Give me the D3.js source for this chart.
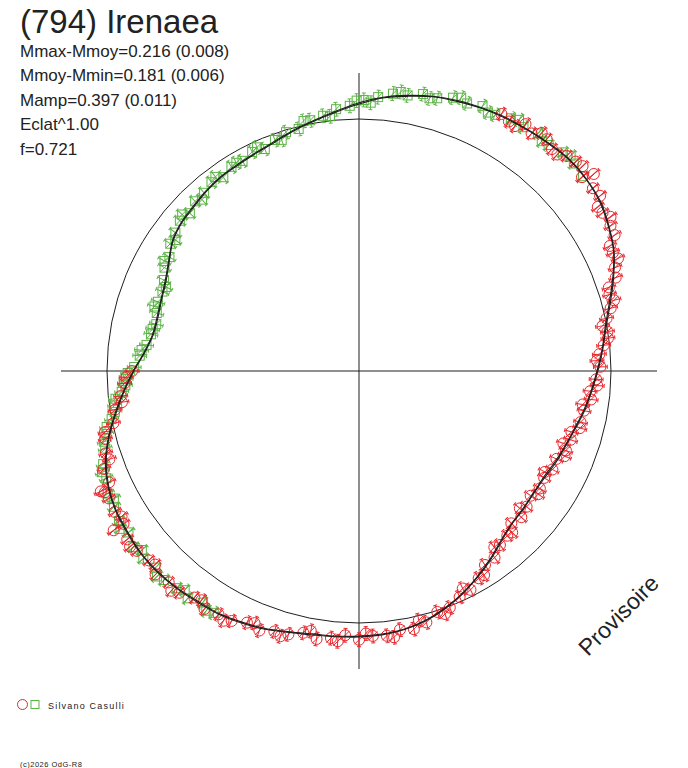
<!DOCTYPE html>
<html><head><meta charset="utf-8">
<script src="https://cdn.jsdelivr.net/npm/d3@7"></script>
<style>
body{margin:0;background:#fff}
svg{display:block}
text{font-family:"Liberation Sans",Arial,sans-serif;fill:#222}
</style>
</head><body><div id="chart"></div>
<script>
// ---------- data ----------
const title = "(794) Irenaea";
const statLines = ["Mmax-Mmoy=0.216 (0.008)", "Mmoy-Mmin=0.181 (0.006)", "Mamp=0.397 (0.011)", "Eclat^1.00", "f=0.721"];
const observer = "Silvano Casulli";
const credit = "(c)2026 OdG-R8";
const watermark = "Provisoire";
// phase in degrees (clockwise from top), relative magnitude (positive = brighter, outward)
const fitA = [[0,.065],[5,.096],[10,.117],[15,.139],[20,.152],[25,.165],[30,.174],[35,.183],[40,.191],[45,.200],[50,.196],[55,.183],[60,.157],[65,.126],[70,.078],[75,.030],[80,-.009],[85,-.035],[90,-.061],[95,-.083],[100,-.104],[105,-.126],[110,-.143],[115,-.157],[120,-.170],[125,-.170],[130,-.165],[135,-.157],[140,-.135],[145,-.100],[150,-.065],[155,-.030],[160,.000],[165,.026],[170,.043],[175,.052],[180,.057],[185,.061],[190,.065],[195,.078],[200,.096],[205,.109],[210,.122],[215,.126],[220,.135],[225,.139],[230,.139],[235,.130],[240,.122],[245,.104],[250,.074],[255,.030],[260,-.022],[265,-.070],[270,-.117],[275,-.161],[280,-.187],[285,-.191],[290,-.183],[295,-.170],[300,-.143],[305,-.109],[310,-.091],[315,-.083],[320,-.070],[325,-.061],[330,-.057],[335,-.048],[340,-.035],[345,-.013],[350,.009],[355,.035]];
const fitB = [[0,.071],[5,.099],[10,.121],[15,.141],[20,.156],[25,.167],[30,.178],[35,.185],[40,.194],[45,.202],[50,.198],[55,.187],[60,.160],[65,.128],[70,.082],[75,.035],[80,-.005],[85,-.032],[90,-.057],[95,-.080],[100,-.100],[105,-.123],[110,-.140],[115,-.152],[120,-.165],[125,-.168],[130,-.162],[135,-.155],[140,-.131],[145,-.096],[150,-.062],[155,-.028],[160,.003],[165,.029],[170,.046],[175,.056],[180,.061],[185,.064],[190,.070],[195,.081],[200,.099],[205,.113],[210,.125],[215,.131],[220,.138],[225,.143],[230,.142],[235,.134],[240,.125],[245,.107],[250,.078],[255,.033],[260,-.018],[265,-.067],[270,-.114],[275,-.158],[280,-.184],[285,-.187],[290,-.180],[295,-.166],[300,-.140],[305,-.106],[310,-.088],[315,-.079],[320,-.067],[325,-.058],[330,-.053],[335,-.045],[340,-.031],[345,-.010],[350,.012],[355,.039]];
const redPts = [[29,.182],[31,.170],[34,.199],[36,.181],[39,.201],[41,.183],[44,.204],[46,.215],[49,.189],[50,.237],[52,.195],[54,.200],[57,.167],[60,.167],[62,.163],[65,.122],[68,.105],[70,.092],[73,.043],[76,.032],[78,.005],[81,-.002],[84,-.026],[86,-.048],[89,-.046],[92,-.064],[95,-.087],[97,-.079],[100,-.102],[103,-.107],[106,-.135],[108,-.128],[111,-.132],[114,-.156],[117,-.152],[120,-.166],[123,-.158],[126,-.173],[129,-.158],[132,-.146],[135,-.159],[138,-.132],[141,-.122],[144,-.093],[147,-.090],[150,-.055],[153,-.028],[156,-.020],[159,.006],[162,.006],[165,.036],[168,.052],[171,.043],[174,.062],[177,.058],[180,.073],[183,.055],[186,.072],[189,.084],[192,.068],[195,.090],[198,.095],[201,.113],[204,.102],[207,.124],[210,.126],[213,.138],[216,.122],[219,.145],[222,.141],[225,.155],[228,.135],[231,.147],[234,.150],[237,.125],[240,.130],[243,.125],[246,.094],[249,.092],[252,.062],[255,.046],[258,-.004],[261,-.022],[264,-.054],[267,-.075],[270,-.109],
  [32.5,.167],[37.5,.209],[42.5,.181],[47.5,.223],[55.5,.164],[58.5,.187],[63.5,.123],[66.5,.132],[71.5,.050],[74.5,.055],[79.5,-.019],[82.5,-.004],[87.5,-.060],[93.5,-.058],[98.5,-.112],[104.5,-.104],[109.5,-.153],[112.5,-.128],[118.5,-.176],[124.5,-.150],[130.5,-.176],[136.5,-.128],[142.5,-.129],[148.5,-.055],[154.5,-.048],[160.5,.025],[166.5,.019],[172.5,.072],[178.5,.046],[184.5,.083],[190.5,.054],[196.5,.107],[202.5,.091],[208.5,.140],[214.5,.114],[220.5,.161],[226.5,.127],[232.5,.159],[238.5,.115],[244.5,.128],[250.5,.056],[256.5,.040],[262.5,-.056],[268.5,-.083],[245,.143],[237,.176]];
const greenPts = [[211,.131],[214,.119],[217,.142],[220,.137],[223,.147],[226,.135],[229,.147],[232,.149],[235,.128],[238,.135],[241,.122],[244,.120],[247,.098],[250,.088],[253,.058],[256,.036],[259,.000],[262,-.023],[265,-.060],[268,-.082],[271,-.118],[274,-.140],[277,-.165],[280,-.177],[283,-.191],[286,-.181],[289,-.171],[292,-.174],[295,-.160],[298,-.138],[301,-.134],[304,-.106],[307,-.096],[310,-.079],[313,-.090],[316,-.070],[319,-.069],[322,-.054],[325,-.067],[328,-.049],[331,-.051],[334,-.036],[337,-.047],[340,-.027],[343,-.010],[346,-.011],[349,.015],[352,.025],[355,.047],[358,.058],[1,.083],[4,.098],[7,.119],[10,.121],[13,.140],[16,.138],[19,.161],[22,.159],[25,.175],[28,.166],[31,.186],[34,.183],[37,.198],[40,.187],[43,.204],[46,.203],[49,.195],
  [212.5,.140],[218.5,.122],[224.5,.157],[230.5,.128],[236.5,.148],[242.5,.106],[248.5,.105],[254.5,.054],[257.5,.028],[260.5,-.019],[263.5,-.030],[266.5,-.078],[269.5,-.090],[275.5,-.146],[281.5,-.180],[287.5,-.163],[293.5,-.180],[299.5,-.124],[305.5,-.115],[311.5,-.069],[317.5,-.085],[323.5,-.046],[329.5,-.045],[335.5,-.027],[341.5,-.036],[347.5,.018],[353.5,.019],[359.5,.080],[2.5,.072],[8.5,.131],[14.5,.129],[20.5,.173],[26.5,.160],[32.5,.199],[38.5,.181],[44.5,.217]];
const errMag = 0.03;
const axisMag = 0.2;

// ---------- layout ----------
const W = 688, H = 768, cx = 359, cy = 371;
const RED = "#e8262c", GREEN = "#5cb346", INK = "#1e1e1e";
const rScale = d3.scaleLinear().domain([0, 0.2]).range([252, 298]);
const aScale = d3.scaleLinear().domain([0, 360]).range([0, 2 * Math.PI]);

const svg = d3.select("#chart").append("svg").attr("width", W).attr("height", H);
const g = svg.append("g").attr("transform", `translate(${cx},${cy})`);

// axes
const ext = rScale(axisMag);
g.append("line").attr("x1", -ext).attr("x2", ext).attr("y1", 0).attr("y2", 0).attr("stroke", INK).attr("stroke-width", 1);
g.append("line").attr("y1", -ext).attr("y2", ext).attr("x1", 0).attr("x2", 0).attr("stroke", INK).attr("stroke-width", 1);
// mean circle
g.append("circle").attr("r", rScale(0)).attr("fill", "none").attr("stroke", INK).attr("stroke-width", 1);

function pos(d) {
  const a = aScale(d[0]), r = rScale(d[1]);
  return [r * Math.sin(a), -r * Math.cos(a)];
}
const errPx = rScale(errMag) - rScale(0);

function drawPts(data, color, kind) {
  const pg = g.append("g").attr("stroke", color).attr("fill", "none").attr("stroke-width", 1);
  data.forEach(d => {
    const [x, y] = pos(d);
    const s = pg.append("g").attr("transform", `translate(${x},${y})`);
    const rot = s.append("g").attr("transform", `rotate(${d[0]})`);
    rot.append("line").attr("x1", 0).attr("x2", 0).attr("y1", -errPx).attr("y2", errPx);
    rot.append("line").attr("x1", -2).attr("x2", 2).attr("y1", -errPx).attr("y2", -errPx);
    rot.append("line").attr("x1", -2).attr("x2", 2).attr("y1", errPx).attr("y2", errPx);
    if (kind === "circle") {
      s.append("circle").attr("r", 5.5);
      s.append("line").attr("x1", -4.5).attr("y1", 4.5).attr("x2", 4.5).attr("y2", -4.5);
    } else {
      s.append("rect").attr("x", -4.5).attr("y", -4.5).attr("width", 9).attr("height", 9);
      s.append("line").attr("x1", -4.5).attr("y1", 4.5).attr("x2", 4.5).attr("y2", -4.5);
    }
  });
}
drawPts(greenPts, GREEN, "square");
drawPts(redPts, RED, "circle");

// fit curves
const radial = d3.lineRadial().angle(d => aScale(d[0])).radius(d => rScale(d[1])).curve(d3.curveCardinalClosed);
[fitA, fitB].forEach(f => {
  g.append("path").attr("d", radial(f)).attr("fill", "none").attr("stroke", INK).attr("stroke-width", 1.1);
});

// texts
svg.append("text").attr("x", 20).attr("y", 33).style("font-size", "33px").text(title);
svg.selectAll("text.stat").data(statLines).join("text").attr("class", "stat")
  .attr("x", 20).attr("y", (d, i) => 56.5 + i * 24.6).style("font-size", "17px").text(d => d);

svg.append("text").attr("transform", "translate(588,657) rotate(-45)").style("font-size", "23px").text(watermark);

// legend
svg.append("circle").attr("cx", 22.5).attr("cy", 704.5).attr("r", 5).attr("fill", "none").attr("stroke", RED);
svg.append("rect").attr("x", 31).attr("y", 700.5).attr("width", 8).attr("height", 8).attr("fill", "none").attr("stroke", GREEN);
svg.append("text").attr("x", 48).attr("y", 708.5).style("font-size", "9px").style("letter-spacing", "1.2px").text(observer);
svg.append("text").attr("x", 20).attr("y", 766.5).style("font-size", "7.5px").style("letter-spacing", "0.5px").text(credit);
</script>
</body></html>
